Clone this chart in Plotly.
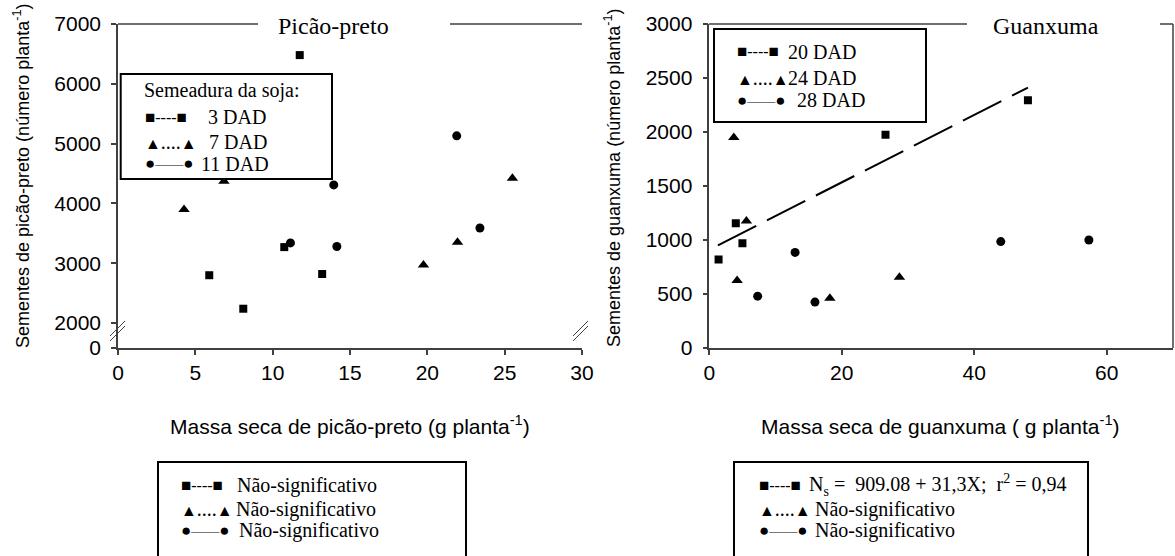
import plotly.graph_objects as go

W, H = 1175, 556

# ---------------- data: Picão-preto ----------------
pp_3dad_x = [5.9, 8.1, 10.75, 13.2, 11.75]
pp_3dad_y = [2800, 2240, 3270, 2820, 6480]
pp_7dad_x = [4.27, 6.85, 19.75, 21.95, 25.5]
pp_7dad_y = [3900, 4370, 2970, 3350, 4420]
pp_11dad_x = [13.95, 11.15, 14.15, 21.9, 23.4]
pp_11dad_y = [4310, 3340, 3280, 5130, 3590]

# ---------------- data: Guanxuma ----------------
gx_20dad_x = [1.4, 4.0, 5.0, 26.6, 48.1]
gx_20dad_y = [820, 1155, 970, 1975, 2295]
gx_24dad_x = [3.7, 5.6, 4.2, 18.2, 28.7]
gx_24dad_y = [1950, 1175, 625, 460, 655]
gx_28dad_x = [7.3, 12.95, 15.95, 44.0, 57.3]
gx_28dad_y = [480, 885, 425, 985, 1000]
gx_reg_x = [1.3, 48.1]
gx_reg_y = [950, 2411]

# tick labels
pp_ytickvals = [1583.3, 2000, 3000, 4000, 5000, 6000, 7000]
pp_yticktext = ["0", "2000", "3000", "4000", "5000", "6000", "7000"]
pp_xtickvals = [0, 5, 10, 15, 20, 25, 30]
gx_xtickvals = [0, 20, 40, 60]
gx_ytickvals = [0, 500, 1000, 1500, 2000, 2500, 3000]

SANS = "Liberation Sans, Arial, sans-serif"
SERIF = "Liberation Serif, Times New Roman, serif"
AX = "#404040"


def px(x):
    return x / W


def py(y):
    return 1 - y / H


fig = go.Figure()

mk = dict(color="black")
fig.add_trace(go.Scatter(x=pp_3dad_x, y=pp_3dad_y, mode="markers", xaxis="x", yaxis="y",
                         marker=dict(symbol="square", size=8, **mk), showlegend=False))
fig.add_trace(go.Scatter(x=pp_7dad_x, y=pp_7dad_y, mode="markers", xaxis="x", yaxis="y",
                         marker=dict(symbol="triangle-up", size=10, **mk), showlegend=False))
fig.add_trace(go.Scatter(x=pp_11dad_x, y=pp_11dad_y, mode="markers", xaxis="x", yaxis="y",
                         marker=dict(symbol="circle", size=9, **mk), showlegend=False))

fig.add_trace(go.Scatter(x=gx_reg_x, y=gx_reg_y, mode="lines", xaxis="x2", yaxis="y2",
                         line=dict(color="black", width=2, dash="43px,12px"), showlegend=False))
fig.add_trace(go.Scatter(x=gx_20dad_x, y=gx_20dad_y, mode="markers", xaxis="x2", yaxis="y2",
                         marker=dict(symbol="square", size=8, **mk), showlegend=False))
fig.add_trace(go.Scatter(x=gx_24dad_x, y=gx_24dad_y, mode="markers", xaxis="x2", yaxis="y2",
                         marker=dict(symbol="triangle-up", size=10, **mk), showlegend=False))
fig.add_trace(go.Scatter(x=gx_28dad_x, y=gx_28dad_y, mode="markers", xaxis="x2", yaxis="y2",
                         marker=dict(symbol="circle", size=9, **mk), showlegend=False))

ydom = [py(348), py(24)]
axcommon = dict(showline=True, linecolor=AX, linewidth=1.5, ticks="outside", ticklen=5,
                tickcolor=AX, tickwidth=1.5, showgrid=False, zeroline=False, automargin=False,
                tickfont=dict(family=SANS, size=21, color="black"))

fig.update_layout(
    width=W, height=H, margin=dict(l=0, r=0, t=0, b=0, pad=0, autoexpand=False),
    paper_bgcolor="white", plot_bgcolor="white", showlegend=False,
    xaxis=dict(domain=[px(118), px(582)], range=[0, 30], tickvals=pp_xtickvals, anchor="y", **axcommon),
    yaxis=dict(domain=ydom, range=[1583.3, 7000], tickvals=pp_ytickvals, ticktext=pp_yticktext,
               anchor="x", ticklabelstandoff=6, **axcommon),
    xaxis2=dict(domain=[px(709.3), px(1173)], range=[0, 70], tickvals=gx_xtickvals, anchor="y2", **axcommon),
    yaxis2=dict(domain=ydom, range=[0, 3000], tickvals=gx_ytickvals, anchor="x2",
                ticklabelstandoff=6, **axcommon),
)

shapes = []


def seg(x0, y0, x1, y1, w=1.5, color=AX):
    shapes.append(dict(type="line", xref="paper", yref="paper", x0=px(x0), y0=py(y0),
                       x1=px(x1), y1=py(y1), line=dict(color=color, width=w)))


# frame pieces (top borders / right border)
seg(118, 24, 258, 24)
seg(450, 24, 582, 24)
seg(709, 24, 967, 24)
seg(1160, 24, 1173, 24)
seg(1173, 24, 1173, 348)
# axis-break marks
seg(110, 336, 125, 321, w=1)
seg(110, 341, 125, 326, w=1)
seg(573, 336, 588, 321, w=1)
seg(573, 341, 588, 326, w=1)


def box(x0, y0, x1, y1, w=2):
    shapes.append(dict(type="rect", xref="paper", yref="paper", x0=px(x0), y0=py(y0),
                       x1=px(x1), y1=py(y1), line=dict(color="black", width=w),
                       fillcolor="white", layer="above"))


box(120.7, 74, 332, 179)
box(714, 29, 926, 122)
box(158, 462, 466, 570)
box(734, 462, 1088, 570)
fig.update_layout(shapes=shapes)

ann = []


def text(x, y, t, size=20, fam=SERIF, xanchor="left", angle=0):
    ann.append(dict(xref="paper", yref="paper", x=px(x), y=py(y), text=t, showarrow=False,
                    xanchor=xanchor, yanchor="middle", textangle=angle,
                    font=dict(family=fam, size=size, color="black")))


SQ = '<span style="font-size:17px">■</span>'
TR = '<span style="font-size:16px">▲</span>'
CI = '<span style="font-size:17px">●</span>'
SYM_SQ = SQ + '<span style="font-size:16px">----</span>' + SQ
SYM_TR = TR + "...." + TR
SYM_CI = CI + '<span style="font-size:14px">——</span>' + CI

# titles
text(333, 26, "Picão-preto", size=24, xanchor="center")
text(1046, 26, "Guanxuma", size=24, xanchor="center")

# axis titles
text(21, 176, "Sementes de picão-preto (número planta<sup>-1</sup>)", size=18, fam=SANS,
     xanchor="center", angle=-90)
text(612, 178, "Sementes de guanxuma (número planta<sup>-1</sup>)", size=18, fam=SANS,
     xanchor="center", angle=-90)
text(350, 425, "Massa seca de picão-preto (g planta<sup>-1</sup>)", size=21, fam=SANS, xanchor="center")
text(940, 425, "Massa seca de guanxuma ( g planta<sup>-1</sup>)", size=21, fam=SANS, xanchor="center")

# inner legend left
text(141.7, 90, "Semeadura da soja:")
text(142.7, 117, SYM_SQ)
text(206, 117, "3 DAD")
text(142.7, 142, SYM_TR)
text(207, 142, "7 DAD")
text(142.7, 164, SYM_CI)
text(199.3, 164, "11 DAD")

# inner legend right
text(735, 52, SYM_SQ)
text(786, 52, "20 DAD")
text(735, 78, SYM_TR)
text(786, 78, "24 DAD")
text(735, 100, SYM_CI)
text(795, 100, "28 DAD")

# bottom legends
text(179.3, 485, SYM_SQ)
text(235, 485, "Não-significativo")
text(179.3, 509, SYM_TR)
text(234, 509, "Não-significativo")
text(179.3, 530, SYM_CI)
text(236.7, 530, "Não-significativo")

text(756.7, 485, SYM_SQ)
text(807.3, 485, "N<sub>s</sub> =\u00a0 909.08 + 31,3X;\u00a0 r<sup>2</sup> = 0,94")
text(756.7, 509, SYM_TR)
text(812.7, 509, "Não-significativo")
text(756.7, 530, SYM_CI)
text(813.3, 530, "Não-significativo")

fig.update_layout(annotations=ann)

fig.write_html("out.html", config={"displayModeBar": False},
               post_script="document.body.style.margin='0';")
